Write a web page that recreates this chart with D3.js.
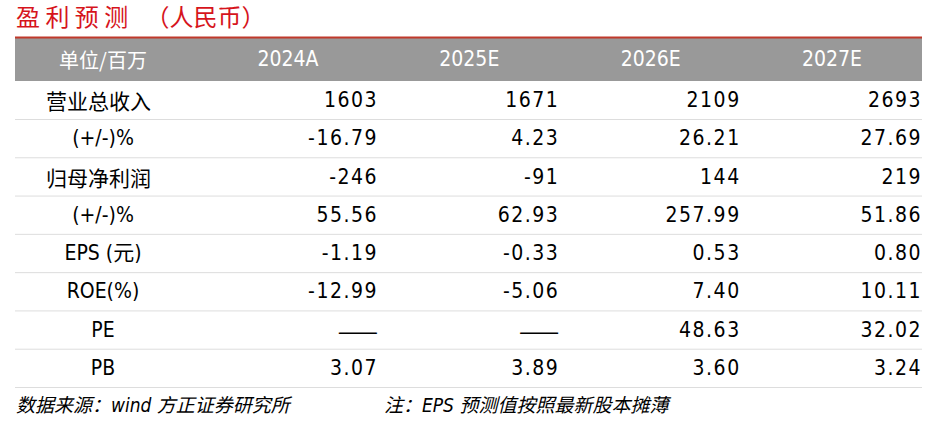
<!DOCTYPE html>
<html><head><meta charset="utf-8">
<script src="https://cdn.jsdelivr.net/npm/d3@7"></script>
<style>body{margin:0;background:#fff}</style>
</head><body>
<script>
var columns = ["2024A", "2025E", "2026E", "2027E"];
var rowLabels = ["营业总收入", "(+/-)%", "归母净利润", "(+/-)%", "EPS (元)", "ROE(%)", "PE", "PB"];
var rowAlign = ["start", "mid", "start", "mid", "mid", "mid", "mid", "mid"];
var v2024 = ["1603", "-16.79", "-246", "55.56", "-1.19", "-12.99", "—", "3.07"];
var v2025 = ["1671", "4.23", "-91", "62.93", "-0.33", "-5.06", "—", "3.89"];
var v2026 = ["2109", "26.21", "144", "257.99", "0.53", "7.40", "48.63", "3.60"];
var v2027 = ["2693", "27.69", "219", "51.86", "0.80", "10.11", "32.02", "3.24"];
var values = [v2024, v2025, v2026, v2027];

var W = 945, H = 431, left = 15, right = 922;
var font = "'DejaVu Sans Condensed','Noto Sans CJK SC',sans-serif";
var cjk = "'Noto Sans CJK SC',sans-serif";
var svg = d3.select("body").append("svg").attr("width", W).attr("height", H);

svg.append("text").attr("x", 16).attr("y", 26).attr("fill", "#d6141c")
  .attr("font-family", cjk).attr("font-size", 24)
  .text("盈 利 预 测 　（人民币）");

svg.append("rect").attr("x", left).attr("y", 37).attr("width", right - left).attr("height", 44).attr("fill", "#999");
svg.append("line").attr("x1", left).attr("x2", right).attr("y1", 37.5).attr("y2", 37.5).attr("stroke", "#c0392b").attr("stroke-width", 2);

var colRight = d3.scaleLinear().domain([0, 3]).range([378, 922]);
var headerX = d3.scaleLinear().domain([0, 3]).range([288, 832]);
var y = d3.scaleLinear().domain([0, 7]).range([100, 368]);

var t = svg.append("g").attr("font-family", font).attr("font-size", 21).attr("dominant-baseline", "central");

t.append("text").attr("x", 103).attr("y", 59).attr("text-anchor", "middle").attr("fill", "#fff")
  .attr("font-family", cjk).attr("font-size", 20).text("单位/百万");
t.selectAll(".hd").data(columns).enter().append("text")
  .attr("x", (d, i) => headerX(i)).attr("y", 59).attr("text-anchor", "middle").attr("fill", "#fff").text(d => d);

rowLabels.forEach(function (lab, r) {
  var cy = y(r);
  var isStart = rowAlign[r] === "start";
  t.append("text").attr("x", isStart ? 46 : 103).attr("y", cy)
    .attr("text-anchor", isStart ? "start" : "middle").attr("fill", "#000")
    .attr("font-family", isStart ? cjk : font)
    .attr("font-size", isStart ? 21 : 21)
    .text(lab);
  values.forEach(function (col, c) {
    var dash = col[r] === "—";
    t.append("text").attr("x", colRight(c)).attr("y", cy).attr("text-anchor", "end")
      .attr("fill", "#000").attr("letter-spacing", dash ? 0 : 1.5)
      .attr("font-family", dash ? cjk : font).attr("font-size", dash ? 24 : 21)
      .text(dash ? "——" : col[r]);
  });
  svg.append("line").attr("x1", left).attr("x2", right)
    .attr("y1", cy + 19.5).attr("y2", cy + 19.5).attr("stroke", "#ddd").attr("stroke-width", 1);
});

svg.append("text").attr("x", 16).attr("y", 412).attr("font-family", font).attr("font-size", 19)
  .attr("font-style", "italic").attr("fill", "#000").text("数据来源：wind 方正证券研究所");
svg.append("text").attr("x", 384).attr("y", 412).attr("font-family", font).attr("font-size", 19)
  .attr("font-style", "italic").attr("fill", "#000").text("注：EPS 预测值按照最新股本摊薄");
</script>
</body></html>
